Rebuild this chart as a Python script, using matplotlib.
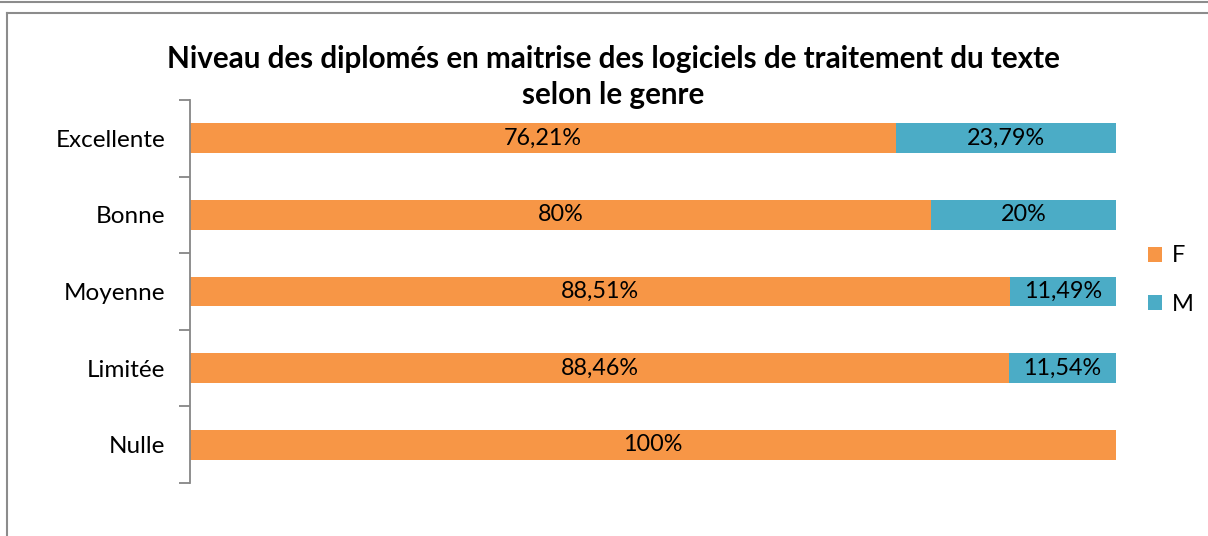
import matplotlib.pyplot as plt
from matplotlib.lines import Line2D

plt.rcParams['font.family'] = ['Lato', 'DejaVu Sans']

# niveaux de maîtrise (de haut en bas) et répartition F / M en %
niveaux = ['Excellente', 'Bonne', 'Moyenne', 'Limitée', 'Nulle']
part_f = [76.21, 80, 88.51, 88.46, 100]
part_m = [23.79, 20, 11.49, 11.54, 0]
etiq_f = ['76,21%', '80%', '88,51%', '88,46%', '100%']
etiq_m = ['23,79%', '20%', '11,49%', '11,54%', '']

orange = '#F79646'
bleu = '#4BACC6'

fig = plt.figure(figsize=(12.08, 5.36), dpi=100)
ax = fig.add_axes([190 / 1208, 1 - 483 / 536, (1116 - 190) / 1208, (483 - 100) / 536])

y = list(range(len(niveaux)))
ax.barh(y, part_f, height=0.39, color=orange, label='F')
ax.barh(y, part_m, left=part_f, height=0.39, color=bleu, label='M')

for i in y:
    ax.text(part_f[i] / 2, i, etiq_f[i], ha='center', va='center', fontsize=16.8)
    if part_m[i] > 0:
        ax.text(part_f[i] + part_m[i] / 2, i, etiq_m[i], ha='center', va='center', fontsize=16.8)

ax.set_xlim(0, 100)
ax.set_ylim(len(niveaux) - 0.5, -0.5)
ax.set_yticks(y)
ax.set_yticklabels(niveaux, fontsize=17.5)
ax.set_yticks([i - 0.5 for i in range(len(niveaux) + 1)], minor=True)
ax.tick_params(axis='y', which='major', length=0, pad=18)
ax.tick_params(axis='y', which='minor', length=8, color='#868686', width=1.3)
ax.set_xticks([])
for s in ['top', 'right', 'bottom']:
    ax.spines[s].set_visible(False)
ax.spines['left'].set_color('#868686')
ax.spines['left'].set_linewidth(1.3)

fig.text(613 / 1208, 1 - 77 / 536,
         'Niveau des diplomés en maitrise des logiciels de traitement du texte\nselon le genre',
         ha='center', va='center', fontsize=21.3, fontweight='bold', linespacing=1.32)

ax.legend(loc='center left', bbox_to_anchor=(1127 / 1208, 1 - 280 / 536),
          bbox_transform=fig.transFigure, frameon=False, fontsize=17,
          handlelength=0.6, handleheight=0.6, handletextpad=0.4, labelspacing=1.15)

# cadres gris autour du graphique
fig.add_artist(Line2D([0, 1], [1 - 2 / 536] * 2, color='#8c8c8c', lw=1.5, transform=fig.transFigure))
fig.add_artist(Line2D([7 / 1208, 1], [1 - 13 / 536] * 2, color='#8c8c8c', lw=1.5, transform=fig.transFigure))
fig.add_artist(Line2D([7 / 1208] * 2, [0, 1 - 13 / 536], color='#8c8c8c', lw=1.5, transform=fig.transFigure))

fig.savefig('out.png', dpi=100, facecolor='white')
